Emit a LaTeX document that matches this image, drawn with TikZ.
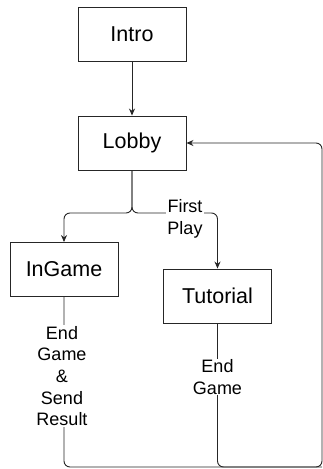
\documentclass[tikz,border=0pt]{standalone}
\usepackage{fontspec}
\setmainfont{Liberation Sans}
\usetikzlibrary{arrows.meta,calc}
\tikzset{
  state/.style={draw=black!85, line width=0.9pt, minimum width=108pt, minimum height=54pt,
    inner sep=0pt, font=\fontsize{21.5}{26}\selectfont},
  flow/.style={draw=black!85, line width=0.9pt, rounded corners=6pt},
  tip/.style={-{Stealth[length=7pt,width=6pt]}},
  edgetext/.style={fill=white, inner sep=1pt, align=center,
    font=\fontsize{18}{21.7}\selectfont}
}
\begin{document}
\begin{tikzpicture}[x=1pt,y=-1pt]
  \useasboundingbox (0,0) rectangle (323,469);

  % states
  \node[state] (intro) at (132,34) {Intro};
  \node[state] (lobby) at (132,143) {Lobby};
  \node[state] (ingame) at (64,269.5) {InGame};
  \node[state] (tutorial) at (217.5,296) {Tutorial};

  % routing points
  \coordinate (split) at (132,213);
  \coordinate (inbottom) at (64,467);
  \coordinate (tutbottom) at (217.5,467);
  \coordinate (rightbottom) at (322,467);
  \coordinate (righttop) at (322,143);

  % Intro -> Lobby
  \draw[flow,tip] (intro) -- (lobby);

  % Lobby -> InGame / Tutorial
  \draw[flow,tip] (lobby.south) -- (split) -| (ingame.north);
  \draw[flow,tip] (lobby.south) -- (split) -| (tutorial.north);
  \node[edgetext] (firstplay) at (185,219) {First\\Play};

  % back to Lobby
  \draw[flow,tip] (ingame.south) -- (inbottom) -- (rightbottom) -- (righttop) -- (lobby.east);
  \draw[flow] (tutorial.south) -- (tutbottom) -- (rightbottom);
  \node[edgetext] (endsend) at (62,376) {End\\Game\\\&\\Send\\Result};
  \node[edgetext] (endgame) at (217.5,377) {End\\Game};
\end{tikzpicture}
\end{document}
